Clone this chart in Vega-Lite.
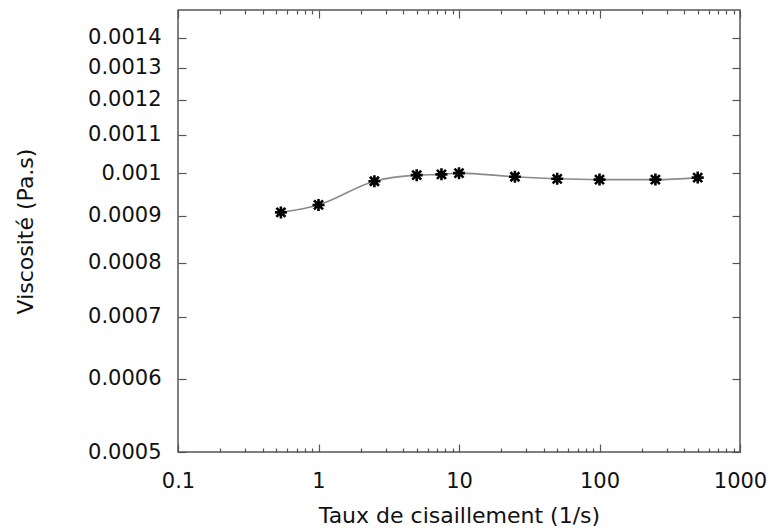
{
  "$schema": "https://vega.github.io/schema/vega-lite/v6.json",
  "autosize": {"type": "none"},
  "width": 562,
  "height": 442,
  "padding": {"left": 178, "top": 10, "right": 35, "bottom": 79},
  "background": "white",
  "config": {
    "view": {"stroke": "#555", "strokeWidth": 1.5},
    "font": "DejaVu Sans",
    "axis": {"domain": false, "grid": false, "tickColor": "#555", "tickWidth": 1.2, "labelFont": "DejaVu Sans", "titleFont": "DejaVu Sans", "labelFontSize": 21, "titleFontSize": 22, "titleFontWeight": "normal", "labelColor": "#111", "titleColor": "#111", "labelFlush": false, "labelOverlap": false}
  },
  "data": {"values": [
    {"rate": 0.54, "visc": 0.000907},
    {"rate": 1.0, "visc": 0.000924},
    {"rate": 2.5, "visc": 0.00098},
    {"rate": 5.0, "visc": 0.000995},
    {"rate": 7.5, "visc": 0.000997},
    {"rate": 10, "visc": 0.001},
    {"rate": 25, "visc": 0.000991},
    {"rate": 50, "visc": 0.000986},
    {"rate": 100, "visc": 0.000984},
    {"rate": 250, "visc": 0.000984},
    {"rate": 500, "visc": 0.000989}
  ]},
  "resolve": {"axis": {"x": "independent", "y": "independent"}},
  "layer": [
    {
      "mark": {"type": "line", "interpolate": "monotone", "color": "#8a8a8a", "strokeWidth": 1.6},
      "encoding": {
        "x": {"field": "rate", "type": "quantitative",
          "scale": {"type": "log", "domain": [0.1, 1000], "nice": false},
          "axis": {"orient": "bottom", "title": "Taux de cisaillement (1/s)", "values": [0.1, 1, 10, 100, 1000], "tickSize": -8, "labelPadding": 26, "titlePadding": 14, "labelFlush": false, "labelExpr": "datum.value < 1 ? '0.1' : format(datum.value, 'd')"}},
        "y": {"field": "visc", "type": "quantitative",
          "scale": {"type": "log", "domain": [0.0005, 0.0015], "nice": false},
          "axis": {"orient": "left", "title": "Viscosité (Pa.s)", "values": [0.0005, 0.0006, 0.0007, 0.0008, 0.0009, 0.001, 0.0011, 0.0012, 0.0013, 0.0014], "tickSize": -8, "labelPadding": 25, "titlePadding": 50, "labelFlush": false, "labelExpr": "format(datum.value, '.4~f')"}}
      }
    },
    {
      "mark": {"type": "point", "shape": "M-1,0L1,0M0,-1L0,1M-0.75,-0.75L0.75,0.75M-0.75,0.75L0.75,-0.75", "size": 144, "stroke": "#000", "strokeWidth": 2.6, "opacity": 1, "filled": false},
      "encoding": {
        "x": {"field": "rate", "type": "quantitative",
          "axis": {"orient": "bottom", "title": null, "labels": false, "tickSize": -4, "values": [0.2,0.3,0.4,0.5,0.6,0.7,0.8,0.9,2,3,4,5,6,7,8,9,20,30,40,50,60,70,80,90,200,300,400,500,600,700,800,900]}},
        "y": {"field": "visc", "type": "quantitative",
          "axis": {"orient": "right", "title": null, "labels": false, "tickSize": -8, "values": [0.0005, 0.0006, 0.0007, 0.0008, 0.0009, 0.001, 0.0011, 0.0012, 0.0013, 0.0014]}}
      }
    },
    {
      "mark": {"type": "point", "opacity": 0},
      "encoding": {
        "x": {"field": "rate", "type": "quantitative",
          "axis": {"orient": "top", "title": null, "labels": false, "tickSize": -8, "values": [0.1, 1, 10, 100, 1000]}},
        "y": {"field": "visc", "type": "quantitative", "axis": null}
      }
    },
    {
      "mark": {"type": "point", "opacity": 0},
      "encoding": {
        "x": {"field": "rate", "type": "quantitative",
          "axis": {"orient": "top", "title": null, "labels": false, "tickSize": -4, "values": [0.2,0.3,0.4,0.5,0.6,0.7,0.8,0.9,2,3,4,5,6,7,8,9,20,30,40,50,60,70,80,90,200,300,400,500,600,700,800,900]}},
        "y": {"field": "visc", "type": "quantitative", "axis": null}
      }
    }
  ]
}
